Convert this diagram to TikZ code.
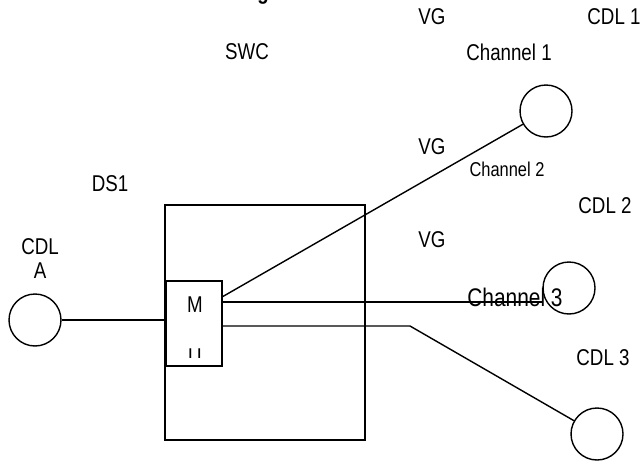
\documentclass[tikz,border=0pt]{standalone}
\usepackage{fontspec}
\setmainfont{Liberation Sans}[FakeStretch=0.82]

\begin{document}
\begin{tikzpicture}[x=0.02cm, y=-0.02cm, line width=0.8pt]
            \tikzstyle{site}=[circle, draw=black, minimum size=1.04cm, inner sep=0pt]
            \tikzstyle{txt}=[font=\fontsize{13}{15}\selectfont, inner sep=0pt]
            \tikzstyle{box}=[draw=black, inner sep=0pt]

            \useasboundingbox (0,0) rectangle (644,463);

            % switch and mux
            \node[box, minimum width=4cm, minimum height=4.7cm] (swc) at (265,322.5) {};
            \node[box, fill=white, minimum width=1.12cm, minimum height=1.7cm] (mux) at (194,323.5) {};
            \node[txt] (m) at (195,305) {M};
            \begin{scope}
              \clip (166,281) rectangle (222,357);
              \node[txt] (u) at (195,356.5) {U};
            \end{scope}

            % data links
            \node[site] (cdlA) at (35,320) {};
            \node[site] (cdl1) at (546,111) {};
            \node[site] (cdl3) at (569,288) {};
            \node[site] (cdl4) at (597,434) {};

            \coordinate (o1) at (222,297);
            \coordinate (o2) at (222,302);
            \coordinate (o3) at (222,326);
            \coordinate (bend) at (410,326);

            % texts
            \node[txt, font=\bfseries\fontsize{13}{15}\selectfont, anchor=base] (title) at (263,-1) {g};
            \node[txt] (vg1) at (432,17) {VG};
            \node[txt] (cdl1txt) at (614,17) {CDL 1};
            \node[txt] (swctxt) at (247,52) {SWC};
            \node[txt] (ch1) at (509,52) {Channel 1};
            \node[txt] (vg2) at (432,147) {VG};
            \node[txt, font=\fontsize{11.4}{13}\selectfont] (ch2) at (507,169) {Channel 2};
            \node[txt] (ds1) at (110,184) {DS1};
            \node[txt] (cdl2txt) at (605,206) {CDL 2};
            \node[txt] (vg3) at (432,240) {VG};
            \node[txt] (cdlAtxt) at (40,247) {CDL};
            \node[txt] (atxt) at (40,271) {A};
            \node[txt, font=\fontsize{14.5}{16}\selectfont] (ch3) at (515,297) {Channel 3};
            \node[txt] (cdl3txt) at (603,358) {CDL 3};

            \draw (cdlA) -- (cdlA -| mux.west);
            \draw (o1) -- (cdl1);
            \draw (o2) -- (o2 -| cdl3.west);
            \draw (o3) -- (bend) -- (cdl4);

          \end{tikzpicture}
\end{document}
